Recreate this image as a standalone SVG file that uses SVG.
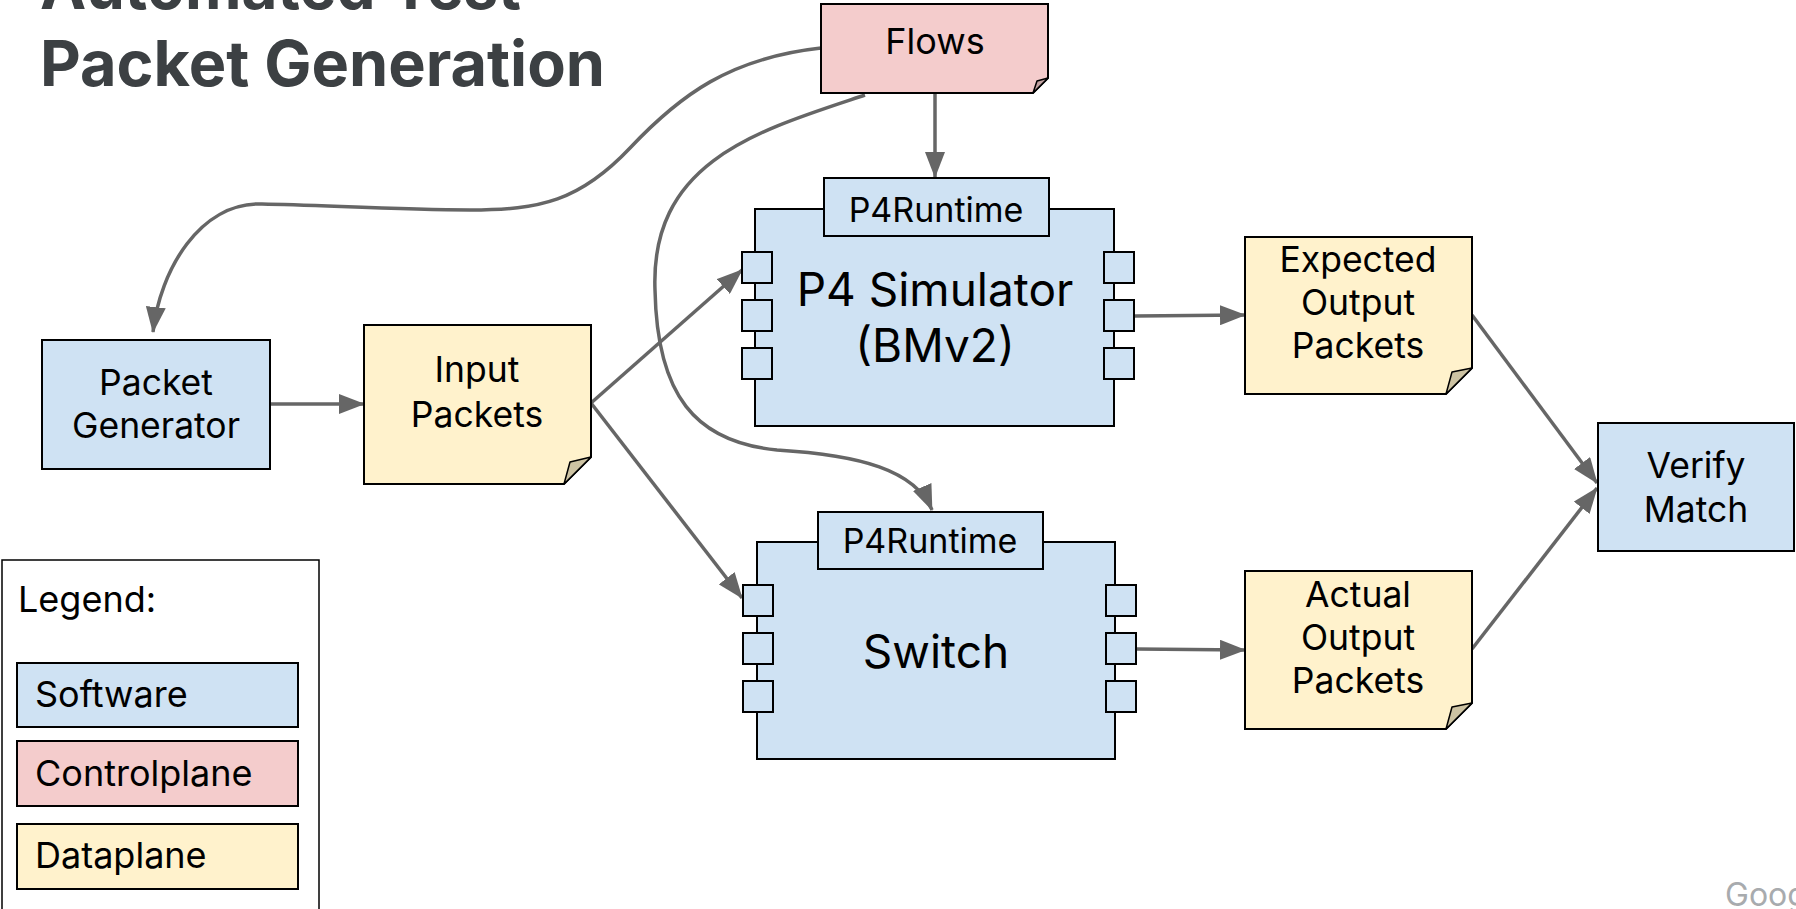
<svg xmlns="http://www.w3.org/2000/svg" width="1796" height="909" viewBox="0 0 1796 909">
  <style>
    .box { stroke: #000; stroke-width: 2; }
    .sw { fill: #cfe2f3; }
    .cp { fill: #f4cccc; }
    .dp { fill: #fff2cc; }
    .fold-dp { fill: #cdc3a3; stroke: #000; stroke-width: 1.5; stroke-linejoin: round; }
    .fold-cp { fill: #c3a3a3; stroke: #000; stroke-width: 1.5; stroke-linejoin: round; }
    .lbl { font-family: Inter, "Noto Sans", "Liberation Sans", sans-serif; fill: #000; text-anchor: middle; }
    .t34 { font-size: 34px; }
    .t35 { font-size: 35.5px; }
    .t36 { font-size: 36px; }
    .t46 { font-size: 46px; }
    .legend-t { font-family: Inter, "Noto Sans", "Liberation Sans", sans-serif; fill: #000; font-size: 36px; }
    .title { font-family: Inter, "Noto Sans", "Liberation Sans", sans-serif; font-weight: 700; font-size: 63px; fill: #3c4043; }
    .conn { fill: none; stroke: #666; stroke-width: 3.5; }
  </style>
  <defs>
    <marker id="arrow" markerUnits="userSpaceOnUse" viewBox="0 0 26 20" markerWidth="26" markerHeight="20" refX="25" refY="10" orient="auto">
      <path d="M0,0 L26,10 L0,20 z" fill="#666"/>
    </marker>
  </defs>

  <rect width="1796" height="909" fill="#fff"/>

  <!-- title -->
  <g id="title">
    <text class="title" x="40" y="9" textLength="481" lengthAdjust="spacingAndGlyphs">Automated Test</text>
    <text class="title" x="40" y="86" textLength="565" lengthAdjust="spacingAndGlyphs">Packet Generation</text>
  </g>

  <!-- connectors -->
  <g id="connectors">
    <path class="conn" d="M821,48 C730,58 680,95 630,148 C580,201 540,210 470,210 C400,210 320,205 262,204 C200,202 160,270 153,332" marker-end="url(#arrow)"/>
    <path class="conn" d="M935,93 L935,177" marker-end="url(#arrow)"/>
    <path class="conn" d="M865,95 C760,130 650,160 655,290 C657,395 695,442 777,450 C860,455 915,470 932,510" marker-end="url(#arrow)"/>
    <path class="conn" d="M270,404 L364,404" marker-end="url(#arrow)"/>
    <path class="conn" d="M591,403 L742,270" marker-end="url(#arrow)"/>
    <path class="conn" d="M591,403 L742,598" marker-end="url(#arrow)"/>
    <path class="conn" d="M1135,316 L1245,315" marker-end="url(#arrow)"/>
    <path class="conn" d="M1136,649 L1245,650" marker-end="url(#arrow)"/>
    <path class="conn" d="M1472,315 L1597,483" marker-end="url(#arrow)"/>
    <path class="conn" d="M1472,649 L1597,488" marker-end="url(#arrow)"/>
  </g>

  <!-- control plane input -->
  <g id="flows">
    <path class="box cp" d="M821,4 H1048 V78 L1033,93 H821 Z"/>
    <path class="fold-cp" d="M1033,93 L1037,81 L1048,78 Z"/>
    <text class="lbl t36" x="935" y="54">Flows</text>
  </g>

  <g id="packet-generator">
    <rect class="box sw" x="42" y="340" width="228" height="129"/>
    <text class="lbl t35" x="156" y="395">Packet</text>
    <text class="lbl t35" x="156" y="438">Generator</text>
  </g>

  <g id="input-packets">
    <path class="box dp" d="M364,325 H591 V457 L564,484 H364 Z"/>
    <path class="fold-dp" d="M564,484 L570,462 L591,457 Z"/>
    <text class="lbl t35" x="477" y="382">Input</text>
    <text class="lbl t35" x="477" y="427">Packets</text>
  </g>

  <g id="p4-simulator">
    <rect class="box sw" x="755" y="209" width="359" height="217"/>
    <rect class="box sw" x="742" y="252" width="30" height="31"/>
    <rect class="box sw" x="742" y="300" width="30" height="31"/>
    <rect class="box sw" x="742" y="348" width="30" height="31"/>
    <rect class="box sw" x="1104" y="252" width="30" height="31"/>
    <rect class="box sw" x="1104" y="300" width="30" height="31"/>
    <rect class="box sw" x="1104" y="348" width="30" height="31"/>
    <rect class="box sw" x="824" y="178" width="225" height="58"/>
    <text class="lbl t34" x="936" y="222">P4Runtime</text>
    <text class="lbl t46" x="935" y="306">P4 Simulator</text>
    <text class="lbl t46" x="935" y="362">(BMv2)</text>
  </g>

  <g id="switch">
    <rect class="box sw" x="757" y="542" width="358" height="217"/>
    <rect class="box sw" x="743" y="585" width="30" height="31"/>
    <rect class="box sw" x="743" y="633" width="30" height="31"/>
    <rect class="box sw" x="743" y="681" width="30" height="31"/>
    <rect class="box sw" x="1106" y="585" width="30" height="31"/>
    <rect class="box sw" x="1106" y="633" width="30" height="31"/>
    <rect class="box sw" x="1106" y="681" width="30" height="31"/>
    <rect class="box sw" x="818" y="512" width="225" height="57"/>
    <text class="lbl t34" x="930" y="553">P4Runtime</text>
    <text class="lbl t46" x="936" y="668">Switch</text>
  </g>

  <g id="expected-output">
    <path class="box dp" d="M1245,237 H1472 V368 L1446,394 H1245 Z"/>
    <path class="fold-dp" d="M1446,394 L1452,372 L1472,368 Z"/>
    <text class="lbl t35" x="1358" y="272">Expected</text>
    <text class="lbl t35" x="1358" y="315">Output</text>
    <text class="lbl t35" x="1358" y="358">Packets</text>
  </g>

  <g id="actual-output">
    <path class="box dp" d="M1245,571 H1472 V703 L1446,729 H1245 Z"/>
    <path class="fold-dp" d="M1446,729 L1452,707 L1472,703 Z"/>
    <text class="lbl t35" x="1358" y="607">Actual</text>
    <text class="lbl t35" x="1358" y="650">Output</text>
    <text class="lbl t35" x="1358" y="693">Packets</text>
  </g>

  <g id="verify-match">
    <rect class="box sw" x="1598" y="423" width="196" height="128"/>
    <text class="lbl t35" x="1696" y="478">Verify</text>
    <text class="lbl t35" x="1696" y="522">Match</text>
  </g>

  <g id="legend">
    <rect x="2" y="560" width="317" height="360" fill="#fff" stroke="#000" stroke-width="1.5"/>
    <text class="legend-t" x="18" y="612">Legend:</text>
    <rect class="box sw" x="17" y="663" width="281" height="64"/>
    <text class="legend-t" x="35" y="707">Software</text>
    <rect class="box cp" x="17" y="741" width="281" height="65"/>
    <text class="legend-t" x="35" y="786">Controlplane</text>
    <rect class="box dp" x="17" y="824" width="281" height="65"/>
    <text class="legend-t" x="35" y="868">Dataplane</text>
  </g>

  <text x="1725" y="906" font-family="Inter, 'Noto Sans', 'Liberation Sans', sans-serif" font-size="32" fill="#a8abae">Google</text>
</svg>
